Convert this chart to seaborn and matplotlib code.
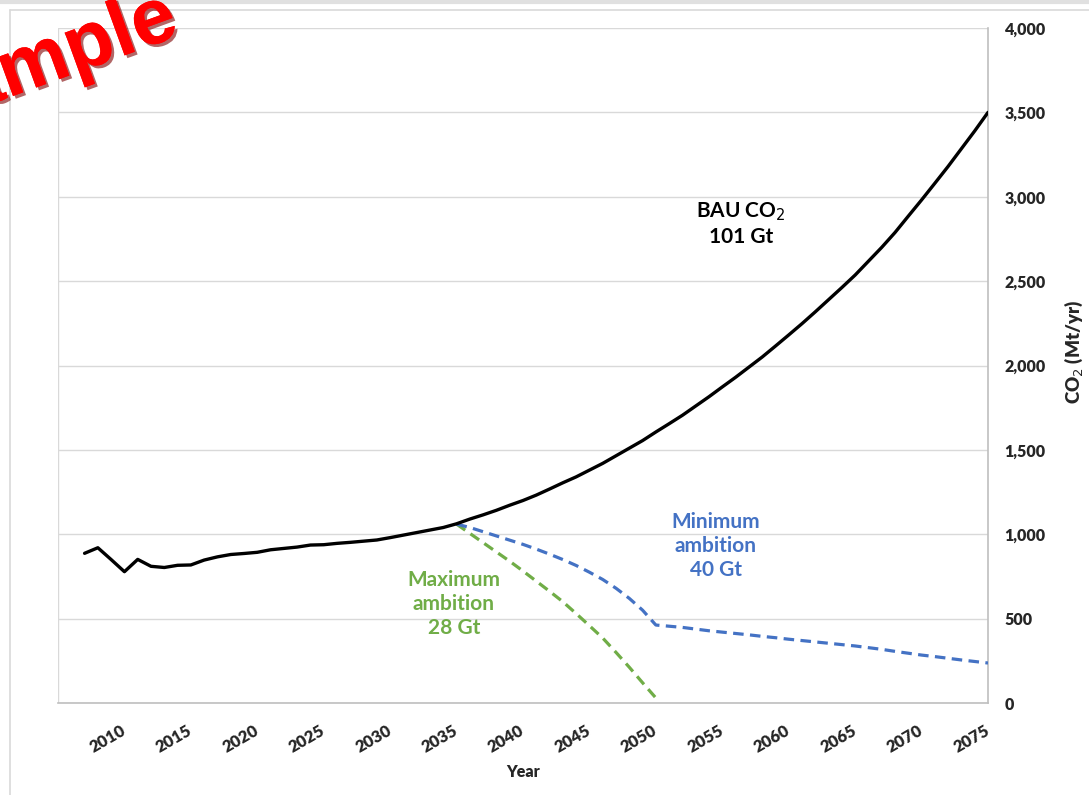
import numpy as np
import pandas as pd
import matplotlib.pyplot as plt
import matplotlib.patheffects as pe
from matplotlib.lines import Line2D
import seaborn as sns

# ---- data (Mt CO2 per year) ----
bau_years = list(range(2007, 2076))
bau_co2 = [887, 920, 850, 778, 851, 810, 803, 816, 818, 847,
           866, 880, 886, 893, 908, 916, 924, 936, 938, 946,
           952, 959, 966, 980, 995, 1010, 1025, 1040, 1062, 1090,
           1115, 1142, 1172, 1200, 1232, 1268, 1305, 1340, 1380, 1420,
           1465, 1510, 1555, 1606, 1655, 1705, 1760, 1815, 1873, 1930,
           1990, 2050, 2115, 2181, 2248, 2318, 2390, 2462, 2536, 2618,
           2700, 2788, 2885, 2981, 3080, 3180, 3285, 3390, 3500]

max_years = list(range(2035, 2051))
max_co2 = [1060, 1005, 950, 895, 840, 782, 722, 662, 600, 530,
           458, 385, 300, 212, 120, 30]

min_years = list(range(2035, 2076))
min_co2 = [1060, 1040, 1015, 990, 965, 940, 912, 882, 850, 815,
           775, 732, 680, 620, 550, 462, 455, 448, 438, 428,
           420, 412, 404, 395, 387, 378, 370, 362, 354, 346,
           338, 328, 318, 306, 295, 284, 275, 265, 255, 246, 237]

x_ticks = list(range(2010, 2080, 5))
y_ticks = list(range(0, 4500, 500))

black = "#000000"
green = "#70AD47"
blue = "#4472C4"
grid_c = "#D9D9D9"

sns.set_style("white")
plt.rcParams['font.family'] = ['Lato', 'DejaVu Sans']

fig = plt.figure(figsize=(10.89, 7.95), dpi=100)
ax = fig.add_axes([58 / 1089, 1 - 703 / 795, 930 / 1089, 675 / 795])

bau = pd.DataFrame({"year": bau_years, "co2": bau_co2})
mx = pd.DataFrame({"year": max_years, "co2": max_co2})
mn = pd.DataFrame({"year": min_years, "co2": min_co2})

dash = (0, (3.3, 2.0))
sns.lineplot(data=mx, x="year", y="co2", ax=ax, color=green, lw=2.3,
             linestyle=dash, zorder=3)
sns.lineplot(data=mn, x="year", y="co2", ax=ax, color=blue, lw=2.3,
             linestyle=dash, zorder=3)
sns.lineplot(data=bau, x="year", y="co2", ax=ax, color=black, lw=2.4,
             zorder=4)

ax.set_xlim(2005, 2075)
ax.set_ylim(0, 4000)
ax.set_xticks(x_ticks)
ax.set_yticks(y_ticks)
ax.set_xticks(list(range(2005, 2080, 5)), minor=True)
ax.grid(True, which="minor", axis="x", color=grid_c, lw=1)
ax.grid(True, which="major", axis="y", color=grid_c, lw=1)
ax.set_axisbelow(True)

for s in ["left", "top"]:
    ax.spines[s].set_visible(False)
for s in ["bottom", "right"]:
    ax.spines[s].set_color("#BFBFBF")
    ax.spines[s].set_linewidth(1.2)

ax.yaxis.tick_right()
ax.yaxis.set_label_position("right")
ax.set_yticklabels([f"{v:,}" for v in y_ticks], fontsize=11.5,
                   fontweight="heavy", ha="left")
ax.tick_params(axis="y", length=0, pad=12)
ax.tick_params(axis="x", which="both", length=4, color="#BFBFBF",
               direction="out", pad=15)
ax.set_xticklabels([str(v) for v in x_ticks], fontsize=12,
                   fontweight="heavy", rotation=30, ha="right",
                   rotation_mode="anchor", va="center")

ax.set_xlabel("Year", fontsize=11.5, fontweight="heavy")
ax.xaxis.set_label_coords(0.5, -0.09)
ax.set_ylabel("CO$_2$ (Mt/yr)", fontsize=13.5, fontweight="heavy")
ax.yaxis.set_label_coords(1.08, 0.521)

ax.text(2056.4, 2840, "BAU CO$_2$\n101 Gt", ha="center", va="center",
        fontsize=15, fontweight="bold", color=black, linespacing=1.25)
ax.text(2054.5, 930, "Minimum\nambition\n40 Gt", ha="center",
        va="center", fontsize=15, fontweight="bold", color=blue,
        linespacing=1.25)
ax.text(2034.8, 585, "Maximum\nambition\n28 Gt", ha="center",
        va="center", fontsize=15, fontweight="bold", color=green,
        linespacing=1.25)

# chart-area frame and top strip
fig.add_artist(Line2D([10 / 1089, 1], [1 - 10 / 795] * 2,
                      transform=fig.transFigure, color="#D9D9D9", lw=1.2))
fig.add_artist(Line2D([10 / 1089] * 2, [0, 1 - 10 / 795],
                      transform=fig.transFigure, color="#D9D9D9", lw=1.2))
fig.add_artist(Line2D([0, 1], [1 - 1.5 / 795] * 2,
                      transform=fig.transFigure, color="#E0E0E0", lw=3))

# watermark
fig.text(-103 / 1089, 1 - 130 / 795, "Sample", fontsize=57,
         fontweight="bold", color="#FF0000", rotation=20,
         ha="left", va="baseline", family="Liberation Sans",
         path_effects=[pe.withSimplePatchShadow(offset=(2, -2),
                                                shadow_rgbFace="#7F0000",
                                                alpha=0.6),
                       pe.Normal()])

fig.savefig("out.png", dpi=100)
